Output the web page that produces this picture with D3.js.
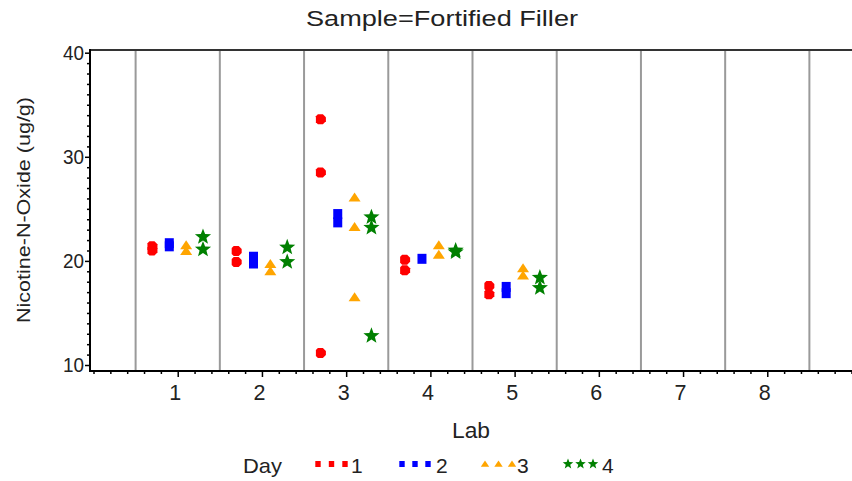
<!DOCTYPE html>
<html><head><meta charset="utf-8">
<script src="https://cdn.jsdelivr.net/npm/d3@7"></script>
<style>body{margin:0;background:#fff}svg{display:block}text{font-family:"Liberation Sans",Arial,sans-serif;fill:#222}</style>
</head><body><svg id="c" width="852" height="481"></svg>
<script>
const title = "Sample=Fortified Filler";
const xTitle = "Lab";
const yTitle = "Nicotine-N-Oxide (ug/g)";
const legendTitle = "Day";
const labs = [1, 2, 3, 4, 5];
const xTickLabels = [1, 2, 3, 4, 5, 6, 7, 8];
const yTickLabels = [10, 20, 30, 40];
const days = ["1", "2", "3", "4"];
const dayColors = ["#ff0000", "#0000ff", "#ffa500", "#008000"];
// values per lab (labs 1..5) for each day
const day1 = [[21.4, 21.0], [20.95, 19.9], [33.6, 28.5, 11.15], [20.1, 19.1], [17.6, 16.8]];
const day2 = [[21.7, 21.4], [20.4, 19.75], [24.5, 23.7], [20.2], [17.5, 16.9]];
const day3 = [[21.5, 20.95], [19.7, 19.0], [26.1, 23.25, 16.5], [21.5, 20.6], [19.3, 18.6]];
const day4 = [[22.3, 21.1], [21.3, 19.9], [24.2, 23.2, 12.8], [21.0, 20.85], [18.4, 17.4]];
const dayData = [day1, day2, day3, day4];

const svg = d3.select("#c");
const x = d3.scaleLinear().domain([0, 9]).range([93.5, 851.5]);
const y = d3.scaleLinear().domain([10, 40]).range([365, 52.7]);
const pLeft = 90, pRight = 852, pTop = 50, pBottom = 371;

// grid lines at half positions
const gridVals = d3.range(0.5, 9, 1);
svg.append("g").selectAll("line").data(gridVals).join("line")
  .attr("x1", d => x(d)).attr("x2", d => x(d)).attr("y1", pTop).attr("y2", pBottom)
  .attr("stroke", "#9a9a9a").attr("stroke-width", 2);

// frame top
svg.append("line").attr("x1", pLeft).attr("x2", pRight).attr("y1", pTop).attr("y2", pTop).attr("stroke", "#333").attr("stroke-width", 2);

// y axis
const yAxis = d3.axisLeft(y).tickValues(d3.range(10, 40.01, 1)).tickSize(3).tickFormat("");
const gy = svg.append("g").attr("transform", `translate(${pLeft},0)`).call(yAxis);
gy.select(".domain").remove();
gy.selectAll(".tick line").attr("stroke", "#000").attr("stroke-width", 1.5)
  .attr("x2", d => (Math.round(d) % 10 === 0 ? -5 : -3));
svg.append("g").selectAll("text").data(yTickLabels).join("text")
  .attr("x", 84).attr("y", d => y(d) + 7).attr("text-anchor", "end")
  .attr("font-size", 19.5).attr("textLength", 21).attr("lengthAdjust", "spacingAndGlyphs").text(d => d);

// x axis
const xAxis = d3.axisBottom(x).tickValues(d3.range(0, 9.001, 0.2)).tickSize(3).tickFormat("");
const gx = svg.append("g").attr("transform", `translate(0,${pBottom})`).call(xAxis);
gx.select(".domain").remove();
gx.selectAll(".tick line").attr("stroke", "#000").attr("stroke-width", 1.5)
  .attr("y2", d => (Math.abs(d - Math.round(d)) < 1e-6 && d > 0.5 && d < 8.5 ? 6 : 3));
svg.append("g").selectAll("text").data(xTickLabels).join("text")
  .attr("x", d => x(d) - 2.5).attr("y", 399.5).attr("text-anchor", "middle")
  .attr("font-size", 21.5).text(d => d);

// axis lines
svg.append("line").attr("x1", pLeft).attr("x2", pLeft).attr("y1", pTop - 1).attr("y2", pBottom + 1).attr("stroke", "#000").attr("stroke-width", 2);
svg.append("line").attr("x1", pLeft).attr("x2", pRight).attr("y1", pBottom).attr("y2", pBottom).attr("stroke", "#000").attr("stroke-width", 2);

// symbols
function starPath(R, r) {
  let p = "";
  for (let i = 0; i < 10; i++) {
    const a = -Math.PI / 2 + i * Math.PI / 5;
    const rad = i % 2 === 0 ? R : r;
    p += (i === 0 ? "M" : "L") + (rad * Math.cos(a)).toFixed(2) + "," + (rad * Math.sin(a)).toFixed(2);
  }
  return p + "Z";
}
const symbols = [
  s => `M${-5*s},${-3*s}L${-3*s},${-5*s}L${2*s},${-5*s}L${5*s},${-2*s}L${5*s},${2*s}L${2*s},${5*s}L${-3*s},${5*s}L${-5*s},${3*s}Z`,
  s => `M${-4.5*s},${-5*s}L${4.5*s},${-5*s}L${4.5*s},${5*s}L${-4.5*s},${5*s}Z`,
  s => `M0,${-5*s}L${6*s},${4*s}L${-6*s},${4*s}Z`,
  s => starPath(8.5 * s, 3.6 * s)
];

dayData.forEach((dd, di) => {
  const pts = [];
  dd.forEach((vals, li) => vals.forEach(v => pts.push({ lab: labs[li], v })));
  const off = (di - 1.5) * 0.2;
  svg.append("g").selectAll("path").data(pts).join("path")
    .attr("d", symbols[di](1))
    .attr("transform", d => `translate(${x(d.lab + off)},${y(d.v)})`)
    .attr("fill", dayColors[di]);
});

// titles
svg.append("text").attr("x", 442).attr("y", 26).attr("text-anchor", "middle").attr("font-size", 22)
  .attr("textLength", 272).attr("lengthAdjust", "spacingAndGlyphs").text(title);
svg.append("text").attr("x", 471).attr("y", 438).attr("text-anchor", "middle").attr("font-size", 22)
  .attr("textLength", 38).attr("lengthAdjust", "spacingAndGlyphs").text(xTitle);
svg.append("text").attr("transform", `translate(30,210) rotate(-90)`).attr("text-anchor", "middle").attr("font-size", 19)
  .attr("textLength", 226).attr("lengthAdjust", "spacingAndGlyphs").text(yTitle);

// legend
const lg = svg.append("g");
lg.append("text").attr("x", 243).attr("y", 473).attr("font-size", 21)
  .attr("textLength", 39).attr("lengthAdjust", "spacingAndGlyphs").text(legendTitle);
const legendX = [318, 402, 485, 568];
const legendStep = [13.5, 13, 13.5, 12.5];
const legendScale = [0.6, 0.6, 0.7, 0.65];
const legendTextX = [351, 436, 517, 602];
days.forEach((d, i) => {
  for (let k = 0; k < 3; k++) {
    lg.append("path").attr("d", symbols[i === 0 ? 1 : i](legendScale[i]))
      .attr("transform", `translate(${legendX[i] + k * legendStep[i]},${464})`)
      .attr("fill", dayColors[i]);
  }
  lg.append("text").attr("x", legendTextX[i]).attr("y", 473).attr("font-size", 21).text(d);
});
</script></body></html>
